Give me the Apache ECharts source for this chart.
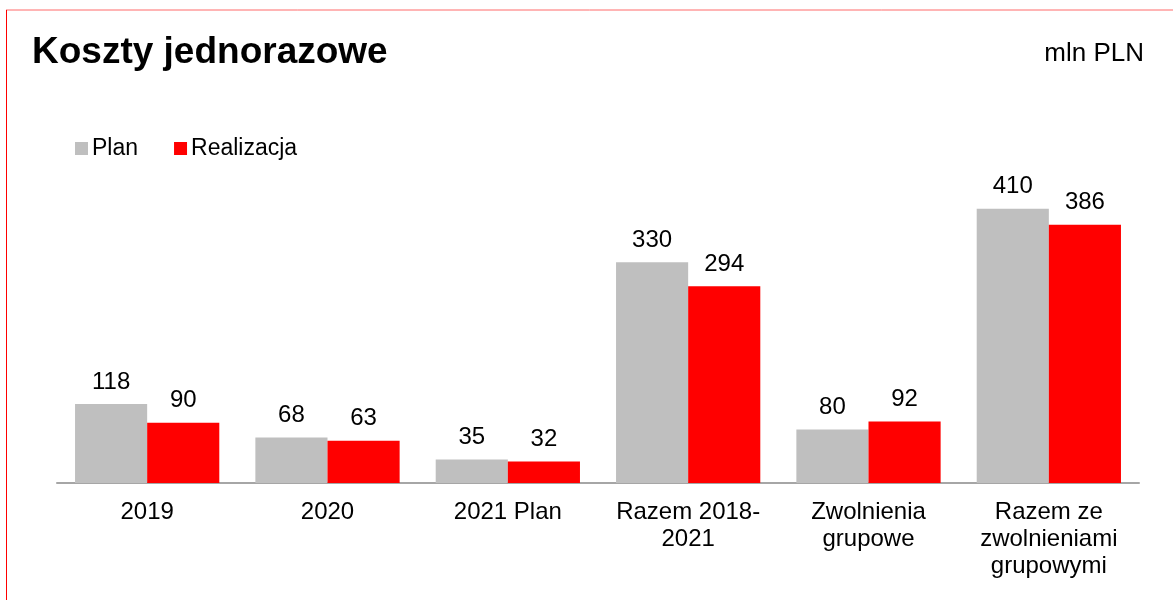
<!DOCTYPE html>
<html>
<head>
<meta charset="utf-8">
<script src="https://cdn.jsdelivr.net/npm/echarts@6/dist/echarts.min.js"></script>
<style>
  html, body { margin: 0; padding: 0; background: #fff; }
  #chart { width: 1173px; height: 600px; }
</style>
</head>
<body>
<div id="chart"></div>
<script>
// kategorie i wartości (mln PLN)
var categories = ['2019', '2020', '2021 Plan', 'Razem 2018-\n2021', 'Zwolnienia\ngrupowe', 'Razem ze\nzwolnieniami\ngrupowymi'];
var planValues = [118, 68, 35, 330, 80, 410];
var realValues = [90, 63, 32, 294, 92, 386];

var chart = echarts.init(document.getElementById('chart'));
var font = 'Liberation Sans, Arial, sans-serif';

var option = {
    animation: false,
    textStyle: { fontFamily: font },
    title: [{
        text: 'Koszty jednorazowe',
        left: 27,
        top: 29,
        textStyle: { fontSize: 37, fontWeight: 'bold', color: '#000', fontFamily: font }
    }, {
        text: 'mln PLN',
        right: 24,
        top: 36,
        textStyle: { fontSize: 26, fontWeight: 'normal', color: '#000', fontFamily: font }
    }],
    legend: {
        left: 70,
        top: 132,
        itemWidth: 13,
        itemHeight: 13,
        itemGap: 36,
        icon: 'rect',
        textStyle: { fontSize: 23, color: '#000', padding: [0, 0, 0, -1] },
        data: ['Plan', 'Realizacja']
    },
    grid: { left: 57, right: 34, top: 182, bottom: 117 },
    xAxis: {
        type: 'category',
        data: categories,
        axisLine: { lineStyle: { color: '#a6a6a6', width: 2 } },
        axisTick: { show: false },
        axisLabel: { fontSize: 24, color: '#000', lineHeight: 27, margin: 16, interval: 0 }
    },
    yAxis: {
        type: 'value',
        min: 0,
        max: 450,
        show: false,
        splitLine: { show: false }
    },
    series: [{
        name: 'Plan',
        type: 'bar',
        data: planValues,
        barWidth: '40%',
        barGap: '0%',
        itemStyle: { color: '#bfbfbf' },
        label: { show: true, position: 'top', distance: 10, fontSize: 24, color: '#000' }
    }, {
        name: 'Realizacja',
        type: 'bar',
        data: realValues,
        barWidth: '40%',
        itemStyle: { color: '#ff0000' },
        label: { show: true, position: 'top', distance: 10, fontSize: 24, color: '#000' }
    }],
    graphic: [{
        type: 'line',
        shape: { x1: 6, y1: 10, x2: 1173, y2: 10 },
        style: { stroke: '#ff6b6b', lineWidth: 1 }
    }, {
        type: 'line',
        shape: { x1: 6.5, y1: 10, x2: 6.5, y2: 600 },
        style: { stroke: '#ff0000', lineWidth: 1 }
    }]
};
chart.setOption(option);
</script>
</body>
</html>
